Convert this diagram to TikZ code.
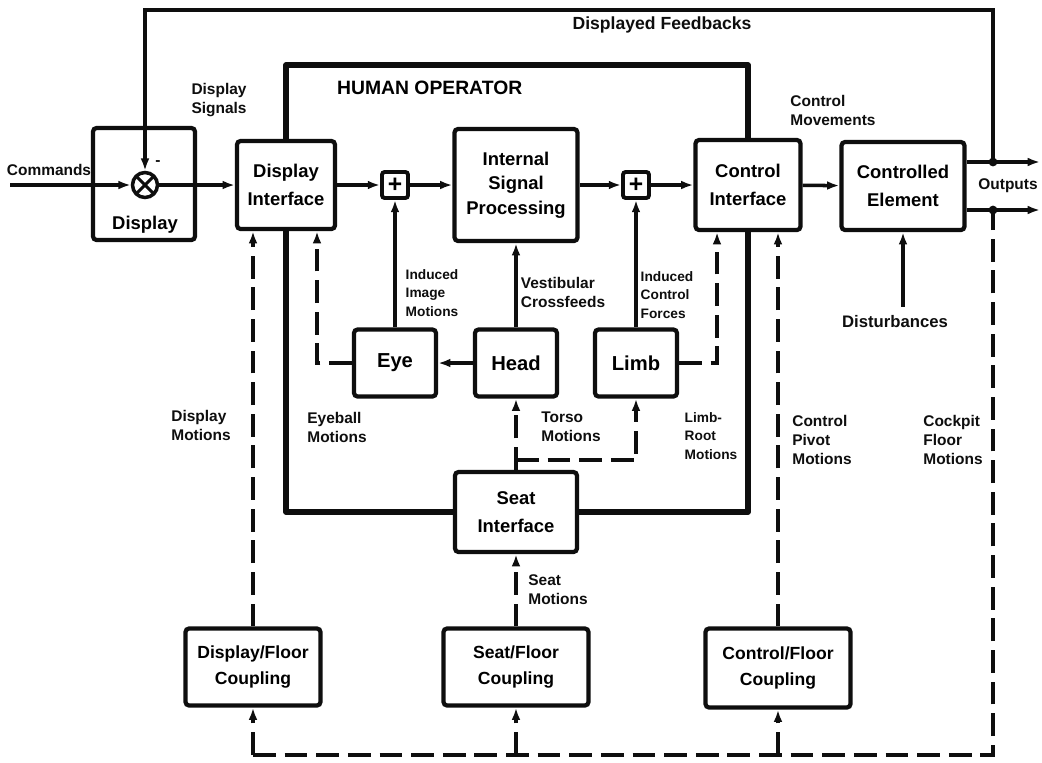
\documentclass[tikz,border=0pt]{standalone}
\usepackage{fontspec}
\setmainfont{Liberation Sans}
\usepackage{tikz}
\usepackage{xcolor}
\usetikzlibrary{calc,arrows.meta,positioning}
\definecolor{inkBlack}{RGB}{14,14,14}
\newcommand{\BoxFont}{\bfseries\fontsize{10.5}{16}\selectfont}
\newcommand{\BigBoxFont}{\bfseries\fontsize{11.5}{14}\selectfont}
\newcommand{\TagFont}{\bfseries\fontsize{8.8}{10.8}\selectfont}
\newcommand{\SmallTagFont}{\bfseries\fontsize{7.8}{10.5}\selectfont}
\tikzset{
  blk/.style={draw=inkBlack,line width=2.4pt,rounded corners=2pt,align=center,font=\BoxFont,inner sep=2pt},
  sumbox/.style={draw=inkBlack,line width=2.2pt,rounded corners=1.5pt,minimum size=0.52cm,inner sep=0pt,font=\bfseries\fontsize{14}{14}\selectfont},
  tag/.style={align=left,font=\TagFont,inner sep=0pt,text=inkBlack},
  sig/.style={draw=inkBlack,line width=2pt,-{Latex[length=7pt,width=5pt]}},
  mot/.style={sig,dash pattern=on 13pt off 5pt},
  hop/.style={draw=inkBlack,line width=3.2pt,line join=round}
}

\begin{document}
\begin{tikzpicture}[x=0.02cm,y=-0.02cm]
\useasboundingbox[fill=white] (0,0) rectangle (1042,762);

% forward path
\node[blk,minimum width=2.04cm,minimum height=2.24cm] (disp) at (144,184) {};
\node[font=\BoxFont] (displbl) at (145,225) {Display};
\node[draw=inkBlack,line width=2pt,circle,minimum size=0.5cm,inner sep=0pt,
  path picture={\draw[line width=1.8pt] (path picture bounding box.north west) -- (path picture bounding box.south east)
    (path picture bounding box.north east) -- (path picture bounding box.south west);}] (sum0) at (145,185) {};
\node[tag] (minus) at (158,163) {-};
\coordinate (cmd) at (10,185);
\node[tag] (cmdlbl) at (49,170) {Commands};

\node[blk,minimum width=1.96cm,minimum height=1.76cm] (dint) at (286,185) {Display\\Interface};
\node[sumbox] (s1) at (395,185) {+};
\node[blk,minimum width=2.46cm,minimum height=2.24cm,font=\bfseries\fontsize{10.5}{14}\selectfont] (isp) at (516,185) {Internal\\Signal\\Processing};
\node[sumbox] (s2) at (636,185) {+};
\node[blk,minimum width=2.1cm,minimum height=1.8cm] (cint) at (748,185) {Control\\Interface};
\node[blk,minimum width=2.46cm,minimum height=1.76cm] (ctrl) at (903,186) {Controlled\\Element};

\draw[sig] (cmd) -- (sum0);
\draw[sig] (sum0) -- (dint);
\draw[sig] (dint) -- (s1);
\draw[sig] (s1) -- (isp);
\draw[sig] (isp) -- (s2);
\draw[sig] (s2) -- (cint);
\draw[sig] (cint) -- (ctrl);

% outputs and feedback
\coordinate (out1) at (1040,162);
\coordinate (out2) at (1040,210);
\coordinate (fbj) at (993,162);
\coordinate (ckj) at (993,210);
\coordinate (fbtop) at (993,10);
\draw[sig] (ctrl.east |- out1) -- (out1);
\draw[sig] (ctrl.east |- out2) -- (out2);
\fill[inkBlack] (fbj) circle (2.5pt) (ckj) circle (2.5pt);
\node[tag] (outlbl) at (1008,186) {Outputs};
\draw[sig] (fbj) -- (fbtop) -| (sum0.north);
\node[tag,font=\bfseries\fontsize{10}{12}\selectfont] (fblbl) at (662,25) {Displayed Feedbacks};
\node[tag] (dsiglbl) at (219,100) {Display\\Signals};
\node[tag] (cmovlbl) at (833,110) {Control\\Movements};

% human operator
\coordinate (hotl) at (286,65);
\coordinate (hotr) at (748,65);
\node[blk,minimum width=2.44cm,minimum height=1.6cm] (seat) at (516,512) {Seat\\Interface};
\draw[hop] (dint.north) -- (hotl) -- (hotr) -- (cint.north);
\draw[hop] (dint.south) |- (seat.west);
\draw[hop] (cint.south) |- (seat.east);
\node[font=\bfseries\fontsize{11}{13}\selectfont,anchor=west] (holbl) at (331,88) {HUMAN OPERATOR};

\node[blk,minimum width=1.64cm,minimum height=1.34cm,font=\BigBoxFont] (eye) at (395,363) {Eye};
\node[blk,minimum width=1.64cm,minimum height=1.34cm,font=\BigBoxFont] (head) at (516,363) {Head};
\node[blk,minimum width=1.64cm,minimum height=1.34cm,font=\BigBoxFont] (limb) at (636,363) {Limb};

\draw[sig] (eye.north) -- (s1.south);
\draw[sig] (head.north) -- (isp.south);
\draw[sig] (limb.north) -- (s2.south);
\draw[sig] (head.west) -- (eye.east);
\draw[mot] (eye.west) -| ([xshift=0.62cm]dint.south);
\draw[mot] (limb.east) -| ([xshift=-0.62cm]cint.south);
\coordinate (torso) at (516,460);
\draw[mot] (seat.north) -- (head.south);
\draw[mot] (torso) -| (limb.south);

\node[tag,font=\SmallTagFont] (imglbl) at (432,293) {Induced\\Image\\Motions};
\node[tag] (vestlbl) at (563,292) {Vestibular\\Crossfeeds};
\node[tag,font=\SmallTagFont] (forclbl) at (667,295) {Induced\\Control\\Forces};
\node[tag] (eyeblbl) at (337,427) {Eyeball\\Motions};
\node[tag] (torslbl) at (571,427) {Torso\\Motions};
\node[tag,font=\SmallTagFont] (rootlbl) at (711,436) {Limb-\\Root\\Motions};

% floor couplings
\node[blk,minimum width=2.7cm,minimum height=1.54cm,font=\bfseries\fontsize{10}{15}\selectfont] (dfc) at (253,667) {Display/Floor\\Coupling};
\node[blk,minimum width=2.9cm,minimum height=1.54cm,font=\bfseries\fontsize{10}{15}\selectfont] (sfc) at (516,667) {Seat/Floor\\Coupling};
\node[blk,minimum width=2.9cm,minimum height=1.58cm,font=\bfseries\fontsize{10}{15}\selectfont] (cfc) at (778,668) {Control/Floor\\Coupling};

\draw[mot] (sfc.north) -- (seat.south);
\draw[mot] (dfc.north) -- (dfc.north |- dint.south);
\draw[mot] (cfc.north) -- (cfc.north |- cint.south);

\coordinate (gl) at (253,755);
\coordinate (gr) at (993,755);
\draw[mot,-] (gl) -- (gr) -- (ckj);
\draw[mot] (dfc.south |- gl) -- (dfc.south);
\draw[mot] (sfc.south |- gl) -- (sfc.south);
\draw[mot] (cfc.south |- gl) -- (cfc.south);

\node[tag] (dmotlbl) at (201,425) {Display\\Motions};
\node[tag] (smotlbl) at (558,590) {Seat\\Motions};
\node[tag] (pivlbl) at (822,440) {Control\\Pivot\\Motions};
\node[tag] (cklbl) at (953,440) {Cockpit\\Floor\\Motions};

\node[tag,font=\bfseries\fontsize{9.5}{11}\selectfont] (dist) at (895,322) {Disturbances};
\draw[sig] ([yshift=5pt]dist.north -| ctrl.south) -- (ctrl.south);
\end{tikzpicture}
\end{document}
